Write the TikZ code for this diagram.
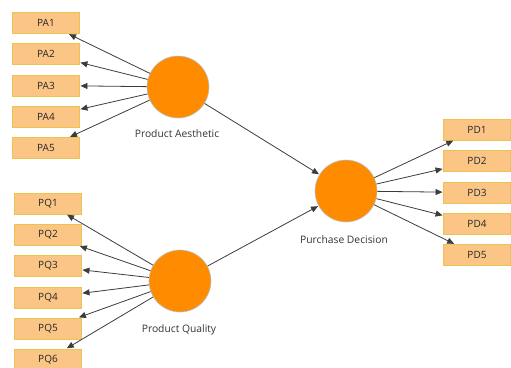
\documentclass[tikz,border=0pt]{standalone}
\usepackage{fontspec}
\setmainfont{Open Sans}
\usetikzlibrary{arrows.meta}
\definecolor{boxfill}{HTML}{FAC585}
\definecolor{boxline}{HTML}{EDC24E}
\definecolor{latent}{HTML}{FF8C00}
\definecolor{latentline}{HTML}{B8C4CC}
\definecolor{wire}{HTML}{3C3C3C}
\tikzset{
  indicator/.style={draw=boxline, line width=0.9pt, fill=boxfill, minimum width=67pt, minimum height=21pt, inner sep=0pt, font=\fontsize{10}{12}\selectfont, text=black!85},
  construct/.style={circle, draw=latentline, line width=0.6pt, fill=latent, minimum size=62pt, inner sep=0pt},
  caption/.style={font=\fontsize{10.3}{12}\selectfont, text=black!80},
  link/.style={draw=wire, line width=0.8pt, -{Triangle[length=7pt,width=6pt]}, shorten >=0.5pt}
}
\begin{document}
\begin{tikzpicture}[x=1pt, y=-1pt]
\useasboundingbox (0,0) rectangle (511,367);
% latent constructs
\node[construct] (PA) at (178,87) {};
\node[construct] (PQ) at (180,281) {};
\node[construct] (PD) at (346,191) {};
\node[caption] (PAl) at (177,134) {Product Aesthetic};
\node[caption] (PQl) at (179,330) {Product Quality};
\node[caption] (PDl) at (344,240) {Purchase Decision};
% indicators of Product Aesthetic
\node[indicator] (PA1) at (46,23) {PA1};
\node[indicator] (PA2) at (46,54) {PA2};
\node[indicator] (PA3) at (46,85.5) {PA3};
\node[indicator] (PA4) at (46,117) {PA4};
\node[indicator] (PA5) at (46,148) {PA5};
% indicators of Product Quality
\node[indicator] (PQ1) at (48,203.5) {PQ1};
\node[indicator] (PQ2) at (48,235) {PQ2};
\node[indicator] (PQ3) at (48,266) {PQ3};
\node[indicator] (PQ4) at (48,297.5) {PQ4};
\node[indicator] (PQ5) at (48,328.5) {PQ5};
\node[indicator] (PQ6) at (48,359.5) {PQ6};
% indicators of Purchase Decision
\node[indicator] (PD1) at (477,129.5) {PD1};
\node[indicator] (PD2) at (477,161) {PD2};
\node[indicator] (PD3) at (477,192.5) {PD3};
\node[indicator] (PD4) at (477,224) {PD4};
\node[indicator] (PD5) at (477,255) {PD5};
% loadings
\foreach \i in {1,...,5} \draw[link] (PA) -- (PA\i);
\foreach \i in {1,...,6} \draw[link] (PQ) -- (PQ\i);
\foreach \i in {1,...,5} \draw[link] (PD) -- (PD\i);
% structural paths
\draw[link] (PA) -- (PD);
\draw[link] (PQ) -- (PD);
\end{tikzpicture}
\end{document}
